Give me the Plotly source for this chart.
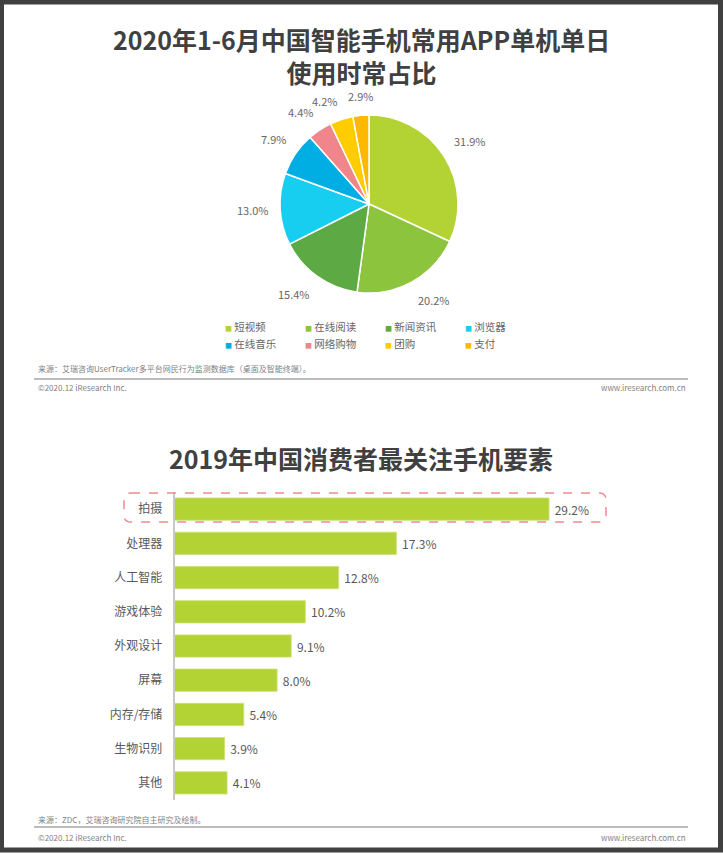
import math
import plotly.graph_objects as go

W, H = 723, 853

# ---------- data ----------
pie_labels = ["短视频", "在线阅读", "新闻资讯", "浏览器", "在线音乐", "网络购物", "团购", "支付"]
pie_values = [31.9, 20.2, 15.4, 13.0, 7.9, 4.4, 4.2, 2.9]
pie_colors = ["#b3d334", "#8cc43e", "#5daa45", "#17cdf0", "#00aee3", "#f0858b", "#ffcc00", "#ffb800"]

bar_labels = ["拍摄", "处理器", "人工智能", "游戏体验", "外观设计", "屏幕", "内存/存储", "生物识别", "其他"]
bar_values = [29.2, 17.3, 12.8, 10.2, 9.1, 8.0, 5.4, 3.9, 4.1]
bar_color = "#b3d334"

title1 = "2020年1-6月中国智能手机常用APP单机单日<br>使用时常占比"
title2 = "2019年中国消费者最关注手机要素"
source1 = "来源：艾瑞咨询UserTracker多平台网民行为监测数据库（桌面及智能终端）。"
source2 = "来源：ZDC，艾瑞咨询研究院自主研究及绘制。"
copyright_txt = "©2020.12 iResearch Inc."
site_txt = "www.iresearch.com.cn"

FONT = "Noto Sans CJK SC"


def px(x):
    return x / W


def py(y):
    return 1 - y / H


fig = go.Figure()

# ---------- pie ----------
cx, cy, r = 369, 204, 89
fig.add_trace(go.Pie(
    labels=pie_labels,
    values=pie_values,
    sort=False,
    direction="clockwise",
    rotation=0,
    marker=dict(colors=pie_colors, line=dict(color="white", width=1.5)),
    textinfo="none",
    showlegend=False,
    hoverinfo="label+value",
    domain=dict(x=[px(cx - r), px(cx + r)], y=[py(cy + r), py(cy - r)]),
))

# ---------- bar ----------
fig.add_trace(go.Bar(
    x=bar_values,
    y=bar_labels,
    orientation="h",
    marker=dict(color=bar_color, line=dict(color="#c9e26e", width=0.8)),
    texttemplate="\u00a0%{x:.1f}%",
    textposition="outside",
    textfont=dict(family=FONT, size=12, color="#595959"),
    cliponaxis=False,
    showlegend=False,
    hoverinfo="x+y",
))

axis_left = 174.5
px_per_unit = (549 - axis_left) / 29.2
x_right = 700
fig.update_layout(
    xaxis=dict(domain=[px(axis_left), px(x_right)],
               range=[0, (x_right - axis_left) / px_per_unit],
               visible=False, fixedrange=True),
    yaxis=dict(domain=[py(800), py(492)],
               autorange="reversed",
               showline=True, linecolor="#c8c8c8", linewidth=1.5,
               showgrid=False, zeroline=False,
               ticks="", ticklabelstandoff=8,
               tickfont=dict(family=FONT, size=12, color="#595959")),
    bargap=0.35,
)

# ---------- annotations ----------
ann = []
ann.append(dict(text=title1, x=px(361), y=py(55), xref="paper", yref="paper",
                showarrow=False, xanchor="center", yanchor="middle",
                font=dict(family=FONT, size=25, color="#404040", weight="bold")))
ann.append(dict(text=title2, x=px(361), y=py(458), xref="paper", yref="paper",
                showarrow=False, xanchor="center", yanchor="middle",
                font=dict(family=FONT, size=25, color="#404040", weight="bold")))

# pie value labels placed just outside each slice, at the slice's mid angle
total = sum(pie_values)
cum = 0.0
label_r = r + 9
for v in pie_values:
    mid = (cum + v / 2) / total * 2 * math.pi  # clockwise from 12 o'clock
    cum += v
    s, c = math.sin(mid), math.cos(mid)
    xa = "left" if s > 0.2 else ("right" if s < -0.2 else "center")
    ya = "bottom" if c > 0.2 else ("top" if c < -0.2 else "middle")
    ann.append(dict(text=f"{v:.1f}%", x=px(cx + label_r * s), y=py(cy - label_r * c),
                    xref="paper", yref="paper", showarrow=False,
                    xanchor=xa, yanchor=ya,
                    font=dict(family=FONT, size=11, color="#666666")))

# legend (4 columns x 2 rows)
for i, (lab, col) in enumerate(zip(pie_labels, pie_colors)):
    cidx, ridx = i % 4, i // 4
    ann.append(dict(
        text=f"<span style='color:{col};font-size:7px'>■</span> {lab}",
        x=px(223 + 80 * cidx), y=py(326 + 17 * ridx), xref="paper", yref="paper",
        showarrow=False, xanchor="left", yanchor="middle",
        font=dict(family=FONT, size=10.5, color="#666666")))

for src, ys, yc in [(source1, 369, 388), (source2, 819, 837)]:
    ann.append(dict(text=src, x=px(36), y=py(ys), xref="paper", yref="paper",
                    showarrow=False, xanchor="left", yanchor="middle",
                    font=dict(family=FONT, size=8, color="#7f7f7f")))
    ann.append(dict(text=copyright_txt, x=px(36), y=py(yc), xref="paper", yref="paper",
                    showarrow=False, xanchor="left", yanchor="middle",
                    font=dict(family=FONT, size=8, color="#7f7f7f")))
    ann.append(dict(text=site_txt, x=px(688), y=py(yc), xref="paper", yref="paper",
                    showarrow=False, xanchor="right", yanchor="middle",
                    font=dict(family=FONT, size=8, color="#7f7f7f")))

# ---------- shapes ----------
shapes = []
for yl in (379, 827):
    shapes.append(dict(type="line", xref="paper", yref="paper",
                       x0=px(34), x1=px(688), y0=py(yl), y1=py(yl),
                       line=dict(color="#a6a6a6", width=1.5)))

# dashed rounded box around the top bar row
bx0, bx1, by0, by1, rr = 124, 606, 493, 522, 7
path = (f"M {px(bx0 + rr)},{py(by0)} L {px(bx1 - rr)},{py(by0)} "
        f"Q {px(bx1)},{py(by0)} {px(bx1)},{py(by0 + rr)} "
        f"L {px(bx1)},{py(by1 - rr)} "
        f"Q {px(bx1)},{py(by1)} {px(bx1 - rr)},{py(by1)} "
        f"L {px(bx0 + rr)},{py(by1)} "
        f"Q {px(bx0)},{py(by1)} {px(bx0)},{py(by1 - rr)} "
        f"L {px(bx0)},{py(by0 + rr)} "
        f"Q {px(bx0)},{py(by0)} {px(bx0 + rr)},{py(by0)} Z")
shapes.append(dict(type="path", path=path, xref="paper", yref="paper",
                   line=dict(color="#ef8a90", width=1.5, dash="dash")))

# outer frame
shapes.append(dict(type="rect", xref="paper", yref="paper",
                   x0=px(1.5), x1=px(720.5), y0=py(850), y1=py(2),
                   line=dict(color="#404040", width=5)))

fig.update_layout(
    width=W, height=H,
    margin=dict(l=0, r=0, t=0, b=0),
    paper_bgcolor="white", plot_bgcolor="white",
    font=dict(family=FONT, color="#595959"),
    annotations=ann, shapes=shapes,
)

fig.write_html(
    "out.html",
    config={"displayModeBar": False},
    post_script=("document.body.style.margin='0';"
                 "document.body.style.overflow='hidden';"
                 "document.documentElement.style.overflow='hidden';"),
)
